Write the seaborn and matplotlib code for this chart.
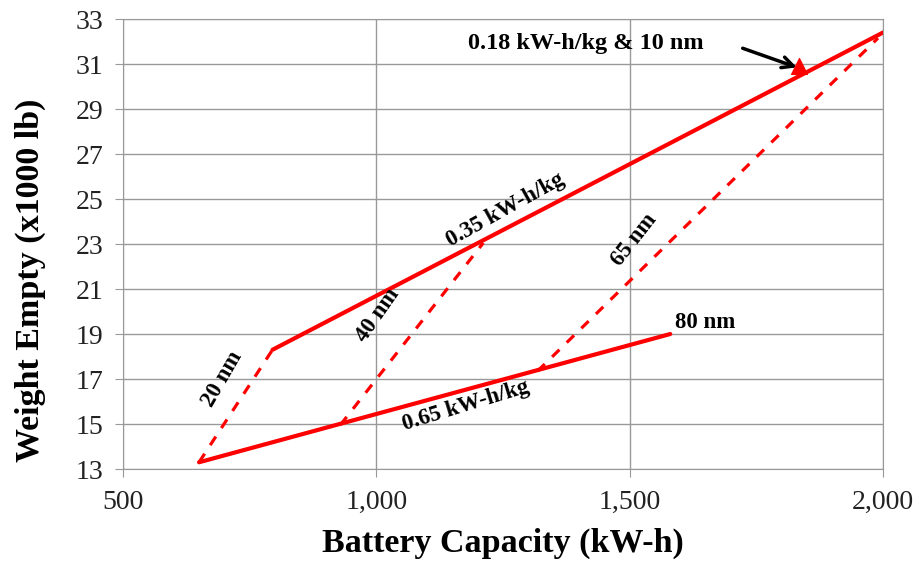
import pandas as pd
import matplotlib.pyplot as plt
import seaborn as sns

# solid lines: constant specific energy
cap_035 = [795, 2000]
wt_035 = [18.3, 32.4]
cap_065 = [650, 1580]
wt_065 = [13.3, 19.0]

# dashed lines: constant cell size
cap_20nm = [650, 795]
wt_20nm = [13.3, 18.3]
cap_40nm = [929, 1211]
wt_40nm = [14.96, 23.05]
cap_65nm = [1318, 1990]
wt_65nm = [17.35, 32.15]

# design point
pt_cap = [1835]
pt_wt = [30.9]

x_ticks = [500, 1000, 1500, 2000]
x_ticklabels = ['500', '1,000', '1,500', '2,000']
y_ticks = list(range(13, 34, 2))

sns.set_style("whitegrid")
plt.rcParams['font.family'] = ['Liberation Serif', 'DejaVu Serif']
plt.rcParams['text.color'] = 'black'
plt.rcParams['axes.labelcolor'] = 'black'
plt.rcParams['xtick.labelcolor'] = '#222222'
plt.rcParams['ytick.labelcolor'] = '#222222'

fig = plt.figure(figsize=(9.23, 5.64), dpi=100)
ax = fig.add_axes([0.1333, 0.1684, 0.8234, 0.7979])

red = '#ff0000'
for cx, wy in [(cap_035, wt_035), (cap_065, wt_065)]:
    sns.lineplot(x=cx, y=wy, color=red, lw=3, sort=False, ax=ax)
for cx, wy in [(cap_20nm, wt_20nm), (cap_40nm, wt_40nm), (cap_65nm, wt_65nm)]:
    sns.lineplot(x=cx, y=wy, color=red, lw=2.3, sort=False, ax=ax,
                 linestyle=(0, (3.2, 3.2)))
sns.scatterplot(x=pt_cap, y=pt_wt, marker='^', s=130, color=red,
                edgecolor=red, ax=ax, zorder=5)

ax.set_xlim(500, 2000)
ax.set_ylim(13, 33)
ax.set_xticks(x_ticks)
ax.set_xticklabels(x_ticklabels)
ax.set_yticks(y_ticks)
ax.grid(color='#999999', lw=1)
for s in ax.spines.values():
    s.set_color('#999999')
ax.tick_params(axis='both', labelsize=20, length=6, color='#999999',
               direction='out', left=True, bottom=True, pad=8)
ax.tick_params(axis='x', pad=9)

ax.set_xlabel('Battery Capacity (kW-h)', fontsize=24.5, fontweight='bold')
ax.set_ylabel('Weight Empty (x1000 lb)', fontsize=24.5, fontweight='bold')
ax.xaxis.set_label_coords(0.5, -0.13)
ax.yaxis.set_label_coords(-0.102, 0.42)

tk = dict(fontsize=16.5, fontweight='bold', ha='center', va='center')
ax.text(1255, 24.5, '0.35 kW-h/kg', rotation=29, **tk)
ax.text(1176, 15.8, '0.65 kW-h/kg', rotation=17, **tk)
ax.text(696, 17.0, '20 nm', rotation=60, **tk)
ax.text(1002, 19.85, '40 nm', rotation=55, **tk)
ax.text(1508, 23.2, '65 nm', rotation=52, **tk)
ax.text(1590, 19.5, '80 nm', fontsize=16.5, fontweight='bold', ha='left', va='center')
ax.text(1413, 31.9, '0.18 kW-h/kg & 10 nm', fontsize=17.5, fontweight='bold',
        ha='center', va='center')
ax.annotate('', xy=(1830, 30.85), xytext=(1723, 31.7),
            arrowprops=dict(arrowstyle='->', color='black', lw=2.5,
                            shrinkA=0, shrinkB=0, mutation_scale=20))

fig.savefig('out.png', dpi=100)
